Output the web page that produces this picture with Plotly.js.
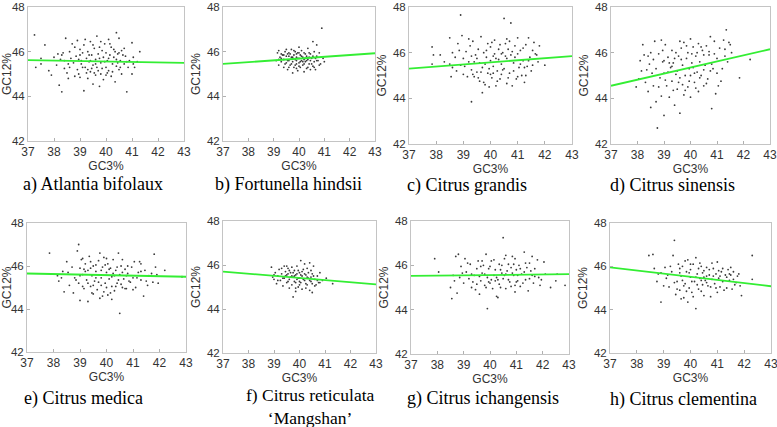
<!DOCTYPE html>
<html>
<head>
<meta charset="utf-8">
<script src="https://cdn.plot.ly/plotly-3.0.1.min.js"></script>
<style>html,body{margin:0;padding:0;background:#fff;}#chart{width:777px;height:427px;}</style>
</head>
<body>
<div id="chart"></div>
<script>
// ---------- DATA ----------
const xTicks = [37, 38, 39, 40, 41, 42, 43];
const yTicks = [42, 44, 46, 48];
const xTitle = "GC3%";
const yTitle = "GC12%";
const captions = [
  "a) Atlantia bifolaux",
  "b) Fortunella hindsii",
  "c) Citrus grandis",
  "d) Citrus sinensis",
  "e) Citrus medica",
  "f) Citrus reticulata<br>\u2018Mangshan\u2019",
  "g) Citrus ichangensis",
  "h) Citrus clementina"
];

// regression line end points (x = 37 and x = 43)
const fitX = [37, 43];
const fitA = [45.62, 45.50];
const fitB = [45.45, 45.93];
const fitC = [45.30, 45.85];
const fitD = [44.55, 46.15];
const fitE = [45.65, 45.50];
const fitF = [45.70, 45.12];
const fitG = [45.52, 45.60];
const fitH = [45.95, 45.08];

const aX = [37.25,37.3,37.5,37.5,37.65,37.8,37.9,38.0,38.1,38.15,38.2,38.3,38.3,38.35,38.4,38.45,38.5,38.55,38.6,38.6,
  38.7,38.75,38.8,38.85,38.9,38.9,38.95,39.0,39.0,39.05,39.1,39.15,39.15,39.2,39.25,39.3,39.3,39.35,39.4,39.4,
  39.45,39.5,39.5,39.55,39.6,39.6,39.65,39.65,39.7,39.75,39.75,39.8,39.8,39.85,39.9,39.9,39.95,40.0,40.0,40.05,
  40.1,40.1,40.15,40.2,40.2,40.25,40.3,40.35,40.35,40.4,40.4,40.45,40.5,40.5,40.55,40.6,40.6,40.7,40.75,40.8,
  40.85,40.9,41.0,41.0,41.05,41.1,41.2,41.3,39.55,39.05,
  38.25,38.4,38.65,38.8,38.95,39.1,39.2,39.25,39.35,39.45,39.5,39.6,39.7,39.8,39.85,39.95,40.05,40.1,40.15,40.25,
  40.3,40.4,40.45,40.55,40.65,40.7,40.8,41.05,39.0,39.4,39.75,40.0,40.5,39.3,38.55];
const aY = [46.75,45.3,45.7,45.45,46.3,45.15,44.95,45.75,45.4,45.9,44.5,44.2,45.85,45.95,45.6,46.6,45.05,44.8,45.3,46.0,
  46.35,45.5,44.9,45.8,46.5,45.2,45.65,46.1,44.85,45.45,45.95,44.25,46.3,45.3,45.7,44.8,46.0,45.55,46.45,45.1,
  45.85,44.55,45.4,46.15,45.65,44.95,46.7,45.3,45.9,44.45,46.2,45.5,45.0,46.05,45.75,44.75,46.35,45.3,45.95,45.6,
  46.55,45.15,45.85,44.9,46.2,45.45,45.75,44.65,46.0,46.85,45.35,45.9,45.2,46.6,45.6,46.05,45.0,45.45,45.8,44.2,
  45.3,45.6,46.4,45.0,45.45,45.3,45.55,46.0,45.05,45.6,
  45.65,45.25,45.7,46.2,45.0,45.3,46.55,45.05,45.85,45.25,46.3,45.45,45.15,46.45,45.25,45.55,45.05,45.7,46.35,45.1,
  46.1,45.65,45.5,45.3,45.85,46.15,45.55,45.75,45.85,45.6,45.7,44.95,45.95,45.2,45.45];

const bX = [39.1,39.15,39.2,39.2,39.25,39.3,39.35,39.4,39.4,39.45,39.5,39.5,39.55,39.6,39.6,39.65,39.7,39.7,39.75,39.75,
  39.8,39.8,39.85,39.85,39.9,39.9,39.95,39.95,40.0,40.0,40.05,40.05,40.1,40.1,40.15,40.15,40.2,40.2,40.25,40.3,
  40.3,40.35,40.35,40.4,40.45,40.45,40.5,40.55,40.55,40.6,40.6,40.65,40.7,40.7,40.75,40.8,40.85,40.9,40.95,41.0,
  39.3,39.6,39.9,40.2,40.4,39.7,40.0,40.25,39.55,40.65,
  39.2,39.3,39.45,39.5,39.6,39.65,39.75,39.8,39.85,39.9,39.95,40.0,40.05,40.1,40.15,40.2,40.25,40.3,40.35,40.4,
  40.45,40.5,40.55,40.6,40.7,40.8,39.4,39.55,39.9,40.0];
const bY = [45.6,45.95,45.4,46.05,45.75,45.55,45.85,45.3,45.65,46.0,45.5,45.8,45.2,45.95,45.6,45.4,45.75,46.1,45.05,45.55,
  45.85,45.3,46.0,45.65,45.45,45.9,45.15,45.7,46.2,45.5,45.85,45.3,45.6,46.05,45.4,45.75,45.1,45.95,45.55,45.8,
  45.25,46.15,45.65,45.45,45.9,45.2,45.7,45.35,46.45,45.55,46.0,45.2,45.8,46.3,45.6,45.95,45.45,47.05,45.7,45.55,
  45.7,45.8,45.75,45.65,45.75,45.45,45.35,45.9,45.9,45.7,
  45.65,45.9,45.45,46.1,45.3,45.9,45.75,46.05,45.4,45.6,45.95,45.7,45.55,45.8,45.55,45.45,45.7,45.6,45.3,45.95,
  45.6,45.45,45.8,45.3,45.6,45.4,45.85,45.6,45.25,45.95];

const cX = [37.85,37.9,37.85,38.15,38.5,38.5,38.55,38.6,38.7,38.75,38.8,38.9,38.9,38.95,39.0,39.0,39.1,39.15,39.2,39.25,
  39.3,39.3,39.35,39.4,39.45,39.5,39.55,39.6,39.6,39.65,39.7,39.7,39.75,39.8,39.85,39.9,39.9,39.95,40.0,40.0,
  40.05,40.1,40.15,40.15,40.2,40.25,40.3,40.3,40.35,40.4,40.45,40.5,40.5,40.55,40.6,40.6,40.65,40.7,40.75,40.75,
  40.8,40.85,40.9,40.95,41.0,41.05,41.1,41.15,41.2,41.25,41.3,41.35,41.4,41.45,41.5,41.55,41.6,41.7,41.75,41.8,
  42.0,40.1,39.4,40.4,39.8,40.6,41.0,
  38.3,38.6,38.85,39.05,39.2,39.35,39.5,39.65,39.75,39.85,39.95,40.05,40.1,40.2,40.25,40.35,40.45,40.55,40.65,40.7,
  40.85,40.9,41.0,41.1,41.2,41.3,41.4,41.55,41.65,39.55,40.0,40.4,40.8,39.3,41.25];
const cY = [46.25,45.9,45.5,45.9,46.65,45.5,44.95,46.0,45.8,45.2,46.4,47.65,45.45,46.75,45.05,45.75,46.05,44.95,45.6,46.3,
  43.85,45.25,46.5,44.95,45.9,45.15,46.15,44.75,45.55,46.7,44.25,45.35,46.0,44.6,45.8,46.4,45.1,44.5,45.65,46.25,
  44.9,45.4,46.55,45.95,44.55,45.2,46.15,45.7,44.85,45.5,46.0,47.5,45.3,46.4,44.65,45.75,46.15,45.1,47.3,45.9,
  44.55,45.55,46.3,44.85,45.95,45.35,46.1,45.0,45.65,44.7,46.35,45.4,46.65,45.8,45.2,46.1,46.45,45.9,45.6,46.3,
  45.45,45.85,45.6,45.05,45.5,46.6,46.65,
  45.6,45.35,46.1,45.4,46.6,45.05,45.75,45.15,44.7,46.1,45.3,46.45,45.1,45.75,44.75,46.35,45.25,45.85,44.9,46.5,
  45.2,45.8,44.95,45.5,46.2,45.0,45.65,45.45,45.95,44.9,45.05,45.95,46.05,45.85,45.35];

const dX = [37.95,38.05,38.1,38.2,38.25,38.3,38.35,38.4,38.45,38.5,38.5,38.55,38.6,38.65,38.7,38.7,38.75,38.8,38.85,38.9,
  38.9,38.95,39.0,39.0,39.05,39.1,39.15,39.2,39.25,39.3,39.3,39.35,39.4,39.45,39.5,39.5,39.55,39.6,39.6,39.65,
  39.7,39.75,39.75,39.8,39.85,39.9,39.9,39.95,40.0,40.0,40.05,40.1,40.15,40.2,40.25,40.3,40.3,40.35,40.4,40.45,
  40.5,40.55,40.6,40.65,40.7,40.75,40.8,40.85,40.9,40.95,41.0,41.05,41.1,41.2,41.25,41.3,41.35,41.5,41.55,41.85,
  42.25,39.15,39.7,40.1,39.4,40.5,
  38.15,38.4,38.6,38.8,38.95,39.05,39.2,39.35,39.45,39.55,39.65,39.8,39.85,39.95,40.05,40.15,40.2,40.25,40.35,40.4,
  40.5,40.6,40.7,40.75,40.9,41.0,41.15,41.3,41.4,41.45,39.0,39.6,40.0,40.8,39.3];
const dY = [44.5,44.85,45.65,46.35,45.9,44.7,45.25,44.3,45.5,46.0,43.6,45.1,44.55,46.5,45.3,43.85,42.7,45.95,44.9,46.55,
  44.1,45.6,43.25,45.1,46.35,44.55,45.8,44.05,45.35,46.1,44.75,45.55,43.7,46.0,44.4,45.2,45.85,43.35,44.9,46.2,
  45.45,44.15,46.45,45.0,45.75,44.5,46.0,45.3,46.6,44.05,45.55,46.25,44.7,45.85,45.15,46.4,44.3,45.6,45.0,46.1,
  44.55,45.45,46.3,44.85,45.9,46.7,43.55,45.3,46.5,44.2,45.75,44.55,46.2,45.3,46.55,45.85,47.0,46.35,46.0,44.9,
  45.7,45.15,44.6,45.35,45.75,45.9,
  45.2,45.85,45.7,44.5,46.1,44.8,45.55,44.35,45.05,44.7,45.7,44.35,46.3,44.75,45.95,45.1,44.45,46.0,44.9,46.25,
  45.25,44.65,46.05,45.2,45.95,45.1,44.75,46.15,45.6,46.45,45.65,46.5,45.0,45.5,45.4];

const eX = [37.85,38.15,38.2,38.35,38.4,38.5,38.6,38.7,38.75,38.8,38.9,38.95,38.95,39.0,39.0,39.05,39.1,39.15,39.2,39.25,
  39.3,39.3,39.35,39.4,39.45,39.5,39.5,39.55,39.6,39.65,39.7,39.75,39.75,39.8,39.85,39.9,39.9,39.95,40.0,40.05,
  40.05,40.1,40.15,40.2,40.25,40.3,40.3,40.35,40.4,40.45,40.5,40.5,40.55,40.6,40.65,40.7,40.75,40.8,40.9,40.95,
  41.0,41.05,41.1,41.2,41.25,41.3,41.4,41.45,41.55,41.6,41.75,41.8,41.85,41.9,42.2,42.85,39.4,39.8,40.2,40.6,
  39.1,40.0,39.6,40.4,41.3,
  38.3,38.55,38.85,39.0,39.1,39.2,39.3,39.4,39.5,39.6,39.7,39.8,39.85,39.95,40.0,40.1,40.15,40.25,40.35,40.45,
  40.55,40.6,40.7,40.8,40.85,41.0,41.15,41.3,41.5,41.7,41.95,39.45,40.2,40.75,39.15];
const eY = [46.6,45.55,45.3,45.75,44.8,46.2,45.1,45.95,44.75,45.45,46.7,47.0,45.2,44.4,45.9,46.3,45.6,44.95,46.1,45.35,
  44.35,45.8,46.45,45.05,45.55,44.7,46.0,45.3,45.75,44.9,46.25,46.6,44.5,45.45,45.95,44.8,46.4,45.2,45.7,46.1,
  44.65,45.4,45.9,45.05,46.3,45.55,44.85,45.8,45.2,46.6,43.8,45.6,46.0,45.0,45.4,45.85,44.95,45.65,45.25,45.95,
  45.45,46.2,45.0,45.7,46.2,45.35,44.6,45.8,45.1,45.55,45.25,46.55,45.95,45.6,45.8,45.5,45.9,45.1,45.5,45.7,
  46.35,46.35,45.45,45.95,46.1,
  45.45,45.7,45.35,45.55,45.05,45.75,45.2,46.2,45.1,46.05,45.25,45.8,44.6,46.05,45.0,45.85,44.75,45.65,45.05,45.35,
  45.15,46.3,44.95,46.0,45.3,44.9,45.45,45.75,45.3,45.65,45.2,44.75,44.45,45.55,45.85];

const fX = [38.9,38.95,39.0,39.05,39.1,39.15,39.2,39.25,39.3,39.35,39.4,39.4,39.45,39.5,39.5,39.55,39.6,39.6,39.65,39.7,
  39.7,39.75,39.75,39.8,39.8,39.85,39.85,39.9,39.9,39.95,40.0,40.0,40.05,40.05,40.1,40.1,40.15,40.2,40.2,40.25,
  40.3,40.3,40.35,40.4,40.4,40.45,40.5,40.5,40.55,40.6,40.65,40.7,40.75,40.8,40.9,41.05,41.3,39.55,39.95,40.25,
  39.7,40.0,39.35,40.45,39.85,
  39.15,39.3,39.45,39.55,39.65,39.75,39.8,39.9,39.95,40.0,40.05,40.1,40.15,40.2,40.3,40.35,40.4,40.5,40.55,40.6,
  40.7,40.8,39.6,39.85,40.25,39.5,40.45,39.0];
const fY = [45.9,45.45,45.35,45.65,45.15,45.5,45.8,45.3,45.6,45.05,45.95,45.4,45.7,45.2,45.55,45.85,44.95,45.35,45.65,45.1,
  45.9,45.45,44.55,45.75,45.25,44.8,45.55,45.95,45.35,45.0,45.65,45.4,46.2,45.2,45.5,44.9,45.8,45.3,46.05,45.55,
  45.1,45.85,45.4,44.85,46.1,45.25,45.6,44.75,45.95,45.35,45.1,45.5,45.2,45.65,45.3,45.4,45.15,45.25,45.75,45.15,
  45.5,45.1,45.4,45.45,45.2,
  45.3,45.85,45.5,45.6,45.45,45.65,45.5,45.6,45.4,45.25,45.55,45.7,45.35,45.6,45.45,45.65,45.3,45.15,45.5,45.05,
  45.3,45.2,45.75,44.95,44.95,45.95,45.75,45.55];

const gX = [37.9,38.05,38.5,38.55,38.6,38.7,38.75,38.8,38.85,38.9,39.0,39.05,39.1,39.2,39.25,39.3,39.4,39.45,39.5,39.55,
  39.6,39.65,39.7,39.75,39.8,39.85,39.9,39.9,39.95,40.0,40.05,40.1,40.15,40.2,40.25,40.3,40.35,40.4,40.45,40.5,
  40.5,40.55,40.6,40.65,40.7,40.75,40.8,40.85,40.9,40.95,41.0,41.05,41.1,41.15,41.2,41.3,41.35,41.4,41.45,41.5,
  41.6,41.65,41.7,41.8,41.85,41.9,42.05,42.3,42.55,42.85,40.2,40.6,39.6,40.9,41.0,39.3,40.4,41.3,
  38.65,38.95,39.15,39.35,39.5,39.65,39.8,39.85,40.0,40.05,40.15,40.25,40.35,40.45,40.55,40.6,40.7,40.8,40.85,40.95,
  41.05,41.15,41.25,41.35,41.5,41.55,41.7,41.95,42.1,42.5,39.7,40.3,40.95,41.6,39.95];
const gY = [46.3,45.7,45.0,44.5,45.55,46.4,44.75,46.5,45.45,45.95,45.2,46.3,45.7,45.4,46.05,45.0,45.55,44.9,45.85,46.2,
  44.7,45.3,45.65,46.0,45.1,46.5,44.05,45.45,45.85,45.2,46.2,44.95,45.55,45.8,44.6,45.35,46.05,45.0,45.65,47.25,
  45.4,46.3,44.95,45.75,46.05,45.25,45.9,46.4,45.55,45.1,45.8,45.3,46.0,45.05,45.6,46.6,45.35,45.9,44.85,46.1,
  45.55,45.2,45.85,46.25,45.45,45.1,46.15,45.0,45.6,45.1,45.3,45.6,45.5,46.05,45.25,45.6,45.8,45.7,
  45.3,45.65,46.1,45.25,45.15,45.95,45.6,45.0,45.95,45.35,46.25,45.45,45.15,46.0,45.55,46.45,45.35,45.05,45.65,46.3,
  45.55,45.85,45.2,46.1,45.4,45.75,45.5,45.35,45.6,45.3,46.2,44.55,44.8,46.4,45.25];

const hX = [38.45,38.6,38.65,38.75,38.8,38.9,39.0,39.05,39.15,39.2,39.3,39.35,39.4,39.45,39.5,39.55,39.6,39.65,39.7,39.75,
  39.8,39.85,39.9,39.9,39.95,40.0,40.05,40.1,40.15,40.2,40.2,40.25,40.3,40.35,40.4,40.45,40.5,40.5,40.55,40.6,
  40.65,40.7,40.75,40.8,40.85,40.9,40.95,41.0,41.0,41.05,41.1,41.15,41.2,41.3,41.35,41.4,41.45,41.5,41.55,41.6,
  41.7,41.75,41.85,41.9,42.3,42.3,40.3,39.7,40.6,40.0,40.4,39.6,40.8,
  38.9,39.1,39.25,39.4,39.5,39.6,39.75,39.8,39.85,39.95,40.05,40.1,40.2,40.25,40.35,40.4,40.5,40.6,40.7,40.75,
  40.85,40.95,41.05,41.1,41.2,41.25,41.35,41.45,41.6,41.65,41.8,40.0,40.45,39.65,41.5];
const hY = [46.5,46.55,45.9,45.3,45.65,44.35,45.1,45.95,45.6,45.05,45.75,46.5,47.2,44.7,45.3,46.1,44.9,45.55,46.0,44.55,
  45.2,45.75,44.35,46.3,45.0,45.5,44.8,46.1,45.3,44.05,46.4,45.65,44.95,45.45,46.0,45.15,45.8,44.65,45.35,45.95,
  45.1,45.6,44.6,45.4,45.9,45.2,45.65,44.8,46.2,45.45,45.05,45.75,45.3,45.6,45.0,45.85,45.35,45.6,44.95,45.75,
  45.25,45.55,45.1,44.65,46.5,45.4,45.9,45.35,45.55,45.85,45.35,45.7,46.15,
  45.7,45.45,46.0,45.25,44.95,45.9,45.1,46.25,44.85,45.7,45.3,44.6,45.5,45.15,46.15,44.85,45.5,45.25,45.85,45.05,
  45.55,45.0,45.8,45.55,45.9,44.9,45.5,45.65,45.4,45.15,45.65,46.1,45.7,44.5,45.95];

const pointsX = [aX, bX, cX, dX, eX, fX, gX, hX];
const pointsY = [aY, bY, cY, dY, eY, fY, gY, hY];
const fits = [fitA, fitB, fitC, fitD, fitE, fitF, fitG, fitH];

// ---------- LAYOUT (pixel boxes of each plot area: left, right, top, bottom) ----------
const W = 777, H = 427;
const boxes = [
  [28, 184, 7, 141], [223, 375, 7, 141], [409, 572, 7, 144], [611, 770, 7, 144],
  [27, 186, 223, 352], [223, 376, 221, 353], [411, 569, 221, 354], [610, 771, 223, 353]
];
const capPos = [[93, 184], [288, 184], [467, 185], [672, 185], [83, 398], [310, 406], [483, 398], [683, 399]];

const sans = "Liberation Sans, Arial, Helvetica, sans-serif";
const serif = "Liberation Serif, Times New Roman, serif";
const traces = [];
const layout = {
  width: W, height: H,
  margin: {l: 0, r: 0, t: 0, b: 0},
  paper_bgcolor: "#ffffff", plot_bgcolor: "#ffffff",
  showlegend: false,
  annotations: []
};

for (let i = 0; i < 8; i++) {
  const n = i + 1;
  const xa = "x" + (n === 1 ? "" : n), ya = "y" + (n === 1 ? "" : n);
  traces.push({
    type: "scatter", mode: "markers", x: pointsX[i], y: pointsY[i],
    xaxis: xa, yaxis: ya,
    marker: {size: 1.8, color: "#3a3a3a"}, hoverinfo: "skip"
  });
  traces.push({
    type: "scatter", mode: "lines", x: fitX, y: fits[i],
    xaxis: xa, yaxis: ya,
    line: {color: "#33ee33", width: 1.8}, hoverinfo: "skip"
  });
  const b = boxes[i];
  const common = {
    showline: true, mirror: true, linecolor: "#c4c4c4", linewidth: 1,
    ticks: "inside", ticklen: 3, tickcolor: "#b0b0b0",
    showgrid: false, zeroline: false, fixedrange: true,
    ticklabeloverflow: "allow"
  };
  layout["xaxis" + (n === 1 ? "" : n)] = Object.assign({}, common, {
    domain: [b[0] / W, b[1] / W], range: [37, 43], tickvals: xTicks,
    anchor: ya,
    tickfont: {family: sans, size: 12, color: "#333333"},
    title: {text: xTitle, font: {family: sans, size: 12, color: "#333333"}, standoff: 0}
  });
  layout["yaxis" + (n === 1 ? "" : n)] = Object.assign({}, common, {
    domain: [1 - b[3] / H, 1 - b[2] / H], range: [42, 48], tickvals: yTicks,
    anchor: xa,
    tickfont: {family: sans, size: 11.5, color: "#333333"},
    title: {text: yTitle, font: {family: sans, size: 12, color: "#333333"}, standoff: 3}
  });
  layout.annotations.push({
    text: captions[i], xref: "paper", yref: "paper",
    x: capPos[i][0] / W, y: 1 - capPos[i][1] / H,
    xanchor: "center", yanchor: "middle", showarrow: false,
    font: {family: serif, size: i === 5 ? 17.5 : 18, color: "#000000"}
  });
}

Plotly.newPlot("chart", traces, layout, {staticPlot: true, displayModeBar: false});
</script>
</body>
</html>
